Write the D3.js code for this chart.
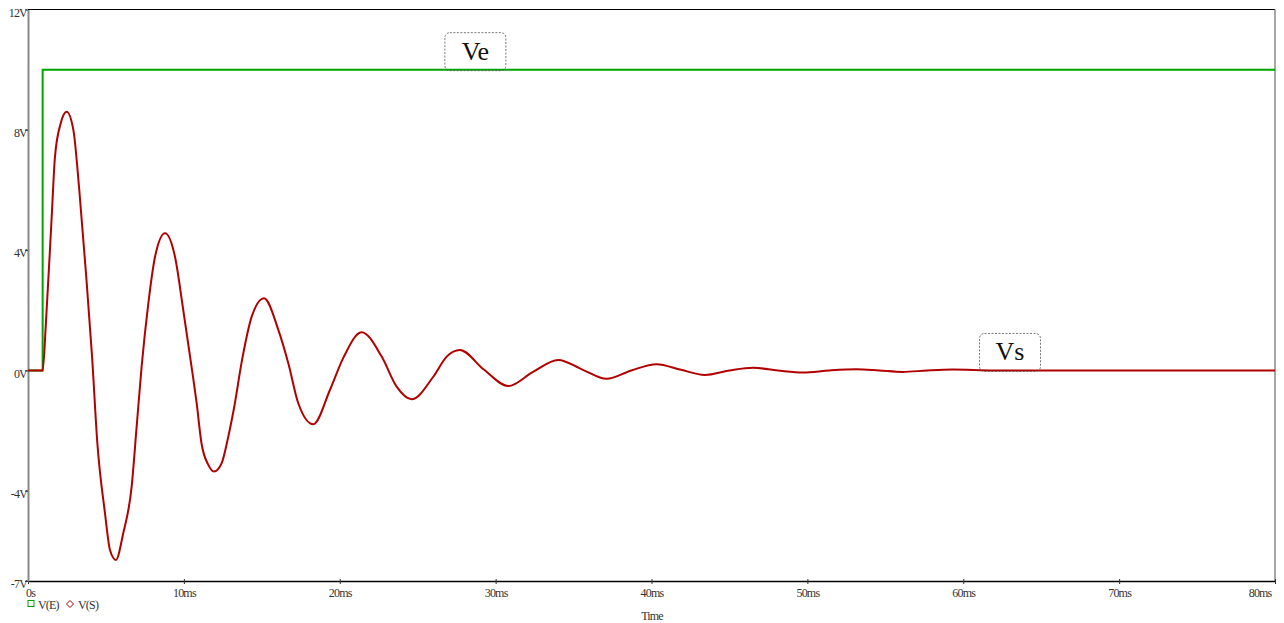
<!DOCTYPE html>
<html>
<head>
<meta charset="utf-8">
<script src="https://cdn.jsdelivr.net/npm/d3@7"></script>
<style>
  body { margin: 0; background: #fff; }
  svg { display: block; }
  .tick-label { font-family: "Liberation Serif", serif; font-size: 12px; letter-spacing: -0.8px; fill: #333; }
  .anno { font-family: "Liberation Serif", serif; font-size: 26px; fill: #111; }
</style>
</head>
<body>
<div id="d3"></div>
<script>
// V(E): input step
const veTime = [0, 0.94, 0.94, 80];
const veVolt = [0, 0, 10, 10];

// V(S): damped response (ms, V)
const vsTime = [0, 0.94, 1.15, 1.52, 1.73, 2.1, 2.48, 2.91, 3.29, 3.72, 4.11, 4.45, 4.94, 5.26, 5.64,
  6.11, 6.65, 6.97, 7.29, 7.72, 8.15, 8.79, 9.43, 9.96, 10.45, 10.82, 11.13, 11.57, 11.93,
  12.42, 12.85, 13.2, 13.75, 14.35, 15.14, 16.06, 16.7, 17.34, 18.3, 19.37, 20.22, 21.4,
  22.69, 23.65, 24.61, 26.0, 26.86, 27.71, 29.2, 30.81, 32.4, 34.01, 35.6, 37.12, 38.7,
  40.33, 41.9, 43.42, 45.0, 46.52, 48.1, 49.73, 51.4, 53.15, 54.6, 56.1, 57.7, 59.3, 62, 80];
const vsVolt = [0, 0, 1.58, 5.11, 7.1, 8.22, 8.6, 8.0, 6.0, 3.23, 0.46, -2.42, -4.75, -5.97, -6.3,
  -5.41, -3.86, -1.87, 0.13, 2.23, 3.78, 4.56, 3.78, 2.01, 0.28, -1.09, -2.42, -3.14, -3.36,
  -3.09, -2.2, -1.3, 0.4, 1.79, 2.4, 1.35, 0.24, -1.09, -1.79, -0.65, 0.41, 1.27,
  0.46, -0.54, -0.96, -0.21, 0.46, 0.68, 0.05, -0.52, -0.05, 0.35, 0.02, -0.28, 0.0,
  0.21, 0.02, -0.15, 0.0, 0.09, 0.0, -0.07, 0.0, 0.04, 0.0, -0.05, 0.0, 0.03, 0, 0];

const xTicks = [0, 10, 20, 30, 40, 50, 60, 70, 80];
const xTickLabels = ["0s", "10ms", "20ms", "30ms", "40ms", "50ms", "60ms", "70ms", "80ms"];
const yTicks = [12, 8, 4, 0, -4, -7];
const yTickLabels = ["12V", "8V", "4V", "0V", "-4V", "-7V"];

const seriesNames = ["V(E)", "V(S)"];
const seriesColors = ["#00a300", "#b00000"];

const width = 1284;
const height = 623;
const margin = { top: 9.5, right: 9, bottom: 42, left: 28 };

const svg = d3.select("#d3").append("svg").attr("width", width).attr("height", height);

const x = d3.scaleLinear().domain([0, 80]).range([margin.left, width - margin.right]);
const y = d3.scaleLinear().domain([-7, 12]).range([height - margin.bottom, margin.top]);

// frame
svg.append("line").attr("x1", x(0)).attr("x2", x(80)).attr("y1", y(12)).attr("y2", y(12))
  .attr("stroke", "#000").attr("stroke-width", 1.2);
svg.append("line").attr("x1", x(80)).attr("x2", x(80)).attr("y1", y(12)).attr("y2", y(-7))
  .attr("stroke", "#888").attr("stroke-width", 1.5);

// x axis
const xAxis = svg.append("g")
  .attr("transform", `translate(0, ${y(-7)})`)
  .call(d3.axisBottom(x).tickValues(xTicks).tickSize(3).tickSizeOuter(0)
    .tickFormat((d, i) => xTickLabels[i]));
xAxis.select(".domain").attr("stroke", "#000").attr("stroke-width", 1.5);
xAxis.selectAll(".tick line").attr("stroke", "#333").attr("y1", -2);
xAxis.selectAll(".tick text").attr("class", "tick-label").attr("y", 7).attr("dy", "0.71em");
xAxis.selectAll(".tick text").filter(d => d === 0).attr("x", 2);
xAxis.selectAll(".tick text").filter(d => d === 80).attr("text-anchor", "end").attr("x", -4);

// y axis
const yAxis = svg.append("g")
  .attr("transform", `translate(${x(0)}, 0)`)
  .call(d3.axisLeft(y).tickValues(yTicks).tickSize(3).tickSizeOuter(0)
    .tickFormat((d, i) => yTickLabels[i]));
yAxis.select(".domain").attr("stroke", "#888").attr("stroke-width", 2);
yAxis.selectAll(".tick line").attr("stroke", "#333");
yAxis.selectAll(".tick text").attr("class", "tick-label").attr("x", -1).attr("dy", "0.55em")
  .attr("text-anchor", "end");

// series
const line = d3.line().x(d => x(d[0])).y(d => y(d[1]));
svg.append("path")
  .datum(d3.zip(veTime, veVolt))
  .attr("fill", "none").attr("stroke", seriesColors[0]).attr("stroke-width", 2)
  .attr("d", line);
svg.append("path")
  .datum(d3.zip(vsTime, vsVolt))
  .attr("fill", "none").attr("stroke", seriesColors[1]).attr("stroke-width", 2)
  .attr("stroke-linejoin", "round")
  .attr("d", line.curve(d3.curveMonotoneX));

// annotations
const annos = [{ text: "Ve", t: 28.7, v: 10 }, { text: "Vs", t: 63.0, v: 0 }];
for (const a of annos) {
  const g = svg.append("g");
  const bw = 61, bh = 38;
  g.append("rect")
    .attr("x", x(a.t) - bw / 2).attr("y", y(a.v) - bh + 1)
    .attr("width", bw).attr("height", bh).attr("rx", 5)
    .attr("fill", "none").attr("stroke", "#555").attr("stroke-width", 0.8)
    .attr("stroke-dasharray", "2,1.5");
  g.append("text").attr("class", "anno")
    .attr("x", x(a.t)).attr("y", y(a.v) - 10)
    .attr("text-anchor", "middle").text(a.text);
}

// x title
svg.append("text").attr("class", "tick-label")
  .attr("x", 652).attr("y", 620).attr("text-anchor", "middle").text("Time");

// legend
const legend = svg.append("g").attr("transform", `translate(28, 604)`);
legend.append("rect").attr("x", 0).attr("y", -3.5).attr("width", 6).attr("height", 6)
  .attr("fill", "none").attr("stroke", seriesColors[0]).attr("stroke-width", 1);
legend.append("text").attr("class", "tick-label").attr("x", 10).attr("y", 4.5).text(seriesNames[0]);
legend.append("path").attr("d", "M42,-3.5 L45.5,0 L42,3.5 L38.5,0 Z")
  .attr("fill", "none").attr("stroke", seriesColors[1]).attr("stroke-width", 1);
legend.append("text").attr("class", "tick-label").attr("x", 50).attr("y", 4.5).text(seriesNames[1]);
</script>
</body>
</html>
